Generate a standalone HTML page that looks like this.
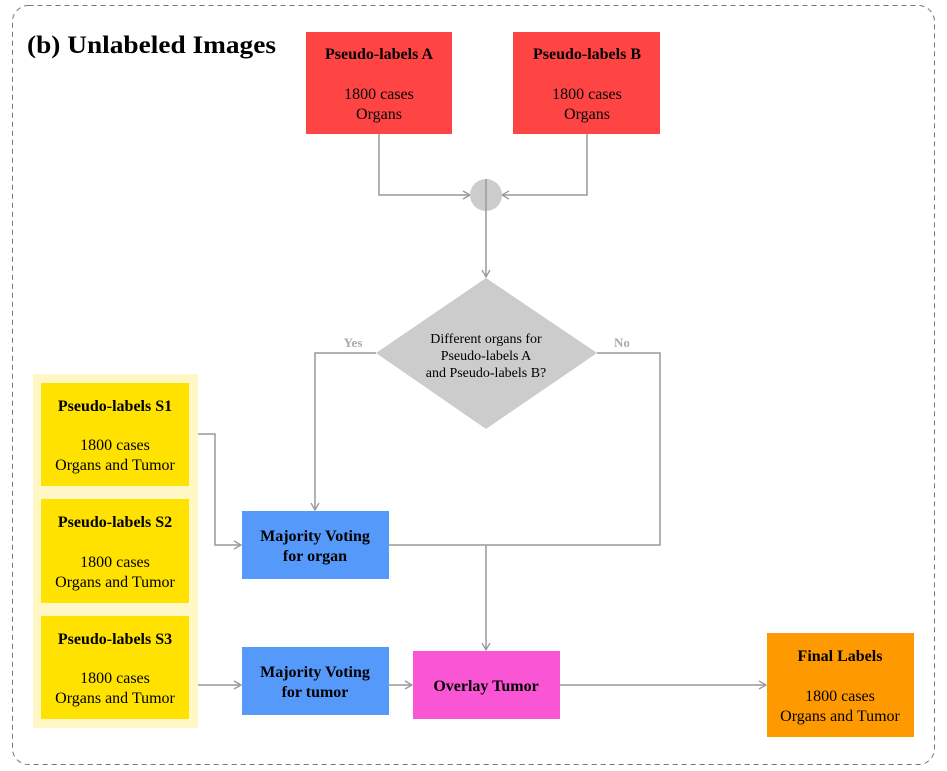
<!DOCTYPE html>
<html><head><meta charset="utf-8"><style>
html,body{margin:0;padding:0;background:#fff;width:947px;height:771px;overflow:hidden}
svg, svg text{font-family:"Liberation Serif","Times New Roman",Times,"Noto Serif CJK SC",serif}
text{fill:#000}
.b{font-weight:bold;font-size:16px}
.n{font-size:16px}
</style></head><body>
<svg width="947" height="771" viewBox="0 0 947 771" xmlns="http://www.w3.org/2000/svg" font-family="'Liberation Serif', 'Times New Roman', Times, 'Noto Serif CJK SC', serif">
<defs><marker id="a" markerWidth="10" markerHeight="10" refX="8" refY="5" orient="auto" markerUnits="userSpaceOnUse"><path d="M1,1 L8,5 L1,9" fill="none" stroke="#999" stroke-width="1.3"/></marker></defs>
<rect x="12.5" y="5.5" width="922" height="759" rx="16" fill="none" stroke="#777" stroke-dasharray="5,4"/>
<text x="27" y="53" style="font-weight:bold;font-size:25px" textLength="249" lengthAdjust="spacingAndGlyphs">(b) Unlabeled Images</text>
<g fill="none" stroke="#999" stroke-width="1.5">
<path d="M379,134 V195 H470" marker-end="url(#a)"/>
<path d="M587,134 V195 H502" marker-end="url(#a)"/>
<path d="M486,195 V277" marker-end="url(#a)"/>
<path d="M376,353 H315 V510" marker-end="url(#a)"/>
<path d="M597,353 H660 V545 H389"/>
<path d="M486,545 V650" marker-end="url(#a)"/>
<path d="M189,434 H215 V545 H241" marker-end="url(#a)"/>
<path d="M198,685 H241" marker-end="url(#a)"/>
<path d="M389,685 H412" marker-end="url(#a)"/>
<path d="M560,685 H766" marker-end="url(#a)"/>
</g>
<circle cx="486" cy="195" r="16" fill="#ccc"/>
<path d="M486,179 V211" stroke="#999" stroke-width="1.5"/>
<rect x="306" y="32" width="146" height="102" fill="#ff4444"/>
<rect x="513" y="32" width="147" height="102" fill="#ff4444"/>
<text class="b" x="379" y="59" text-anchor="middle">Pseudo-labels A</text>
<text class="n" x="379" y="99" text-anchor="middle">1800 cases</text>
<text class="n" x="379" y="119" text-anchor="middle">Organs</text>
<text class="b" x="587" y="59" text-anchor="middle">Pseudo-labels B</text>
<text class="n" x="587" y="99" text-anchor="middle">1800 cases</text>
<text class="n" x="587" y="119" text-anchor="middle">Organs</text>
<path d="M486,278 L597,353 L486,429 L376,353 Z" fill="#cccccc"/>
<text x="486" y="343" text-anchor="middle" style="font-size:14px">Different organs for</text>
<text x="486" y="360" text-anchor="middle" style="font-size:14px">Pseudo-labels A</text>
<text x="486" y="377" text-anchor="middle" style="font-size:14px">and Pseudo-labels B?</text>
<text x="353" y="347" text-anchor="middle" style="font-size:13px;font-weight:bold;fill:#aaa">Yes</text>
<text x="622" y="347" text-anchor="middle" style="font-size:13px;font-weight:bold;fill:#aaa">No</text>
<rect x="33" y="374" width="165" height="354" fill="#fff7c6"/>
<rect x="41" y="383" width="148" height="103" fill="#ffe200"/>
<rect x="41" y="499" width="148" height="104" fill="#ffe200"/>
<rect x="41" y="616" width="148" height="103" fill="#ffe200"/>
<g text-anchor="middle">
<text class="b" x="115" y="411">Pseudo-labels S1</text>
<text class="n" x="115" y="450">1800 cases</text>
<text class="n" x="115" y="470">Organs and Tumor</text>
<text class="b" x="115" y="527">Pseudo-labels S2</text>
<text class="n" x="115" y="567">1800 cases</text>
<text class="n" x="115" y="587">Organs and Tumor</text>
<text class="b" x="115" y="644">Pseudo-labels S3</text>
<text class="n" x="115" y="683">1800 cases</text>
<text class="n" x="115" y="703">Organs and Tumor</text>
</g>
<rect x="242" y="511" width="147" height="68" fill="#5599fa"/>
<rect x="242" y="647" width="147" height="68" fill="#5599fa"/>
<rect x="413" y="651" width="147" height="68" fill="#fa55d5"/>
<rect x="767" y="633" width="147" height="104" fill="#ff9900"/>
<g text-anchor="middle">
<text class="b" x="315" y="541">Majority Voting</text>
<text class="b" x="315" y="561">for organ</text>
<text class="b" x="315" y="677">Majority Voting</text>
<text class="b" x="315" y="697">for tumor</text>
<text class="b" x="486" y="691">Overlay Tumor</text>
<text class="b" x="840" y="661">Final Labels</text>
<text class="n" x="840" y="701">1800 cases</text>
<text class="n" x="840" y="721">Organs and Tumor</text>
</g>
</svg>
</body></html>
